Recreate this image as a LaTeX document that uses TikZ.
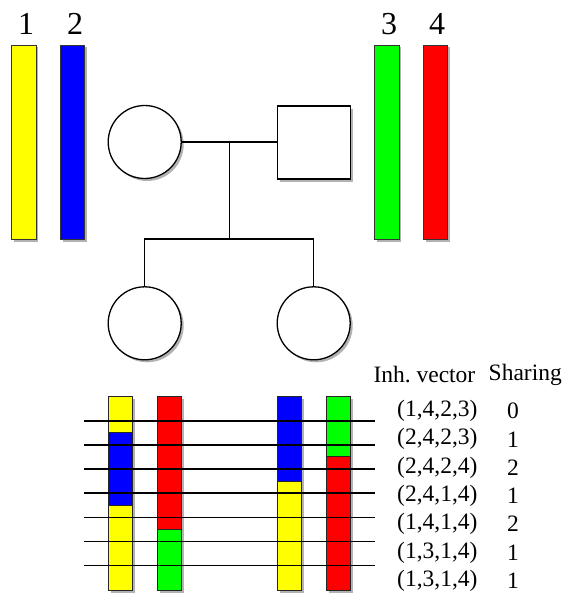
\documentclass[tikz,border=0pt]{standalone}
\usepackage{fontspec}
\setmainfont{Liberation Serif}
\usetikzlibrary{shadows}
\definecolor{cyel}{HTML}{FFFF00}
\definecolor{cblu}{HTML}{0000FF}
\definecolor{cgrn}{HTML}{00FF00}
\definecolor{cred}{HTML}{FF0000}
\begin{document}
\begin{tikzpicture}[x=1pt,y=-1pt,
  shad/.style={drop shadow={shadow xshift=2.5pt,shadow yshift=-2.5pt,opacity=0.3,fill=black}},
  chrom/.style={draw=black!80,line width=0.9pt,minimum width=24.5pt,minimum height=194pt,inner sep=0pt,shad},
  lowchrom/.style={draw=black!85,line width=1pt,minimum width=24.4pt,minimum height=194.7pt,inner sep=0pt,fill=white,shad},
  num/.style={font=\fontsize{32}{36}\selectfont,inner sep=0pt,anchor=base},
  female/.style={circle,draw,line width=1.3pt,minimum size=73pt,inner sep=0pt,fill=white,shad},
  male/.style={rectangle,draw,line width=1.3pt,minimum size=73pt,inner sep=0pt,fill=white,shad},
  link/.style={line width=1.2pt},
  seg/.style={draw=black!85,line width=1pt},
  locus/.style={line width=1.2pt},
  tab/.style={font=\fontsize{23.5}{28}\selectfont,inner sep=0pt}
]
\useasboundingbox (0,0) rectangle (565,594);

% top chromosomes
\node[chrom,fill=cyel] (c1) at (23.7,142) {};
\node[chrom,fill=cblu] (c2) at (72.5,142) {};
\node[chrom,fill=cgrn] (c3) at (386.7,142) {};
\node[chrom,fill=cred] (c4) at (435.5,142) {};
\node[num] (n1) at (26,35) {1};
\node[num] (n2) at (75,35) {2};
\node[num] (n3) at (389,35) {3};
\node[num] (n4) at (437,35) {4};

% pedigree
\coordinate (mar) at (229.3,142);
\coordinate (sib) at (229.3,239);
\draw[link] (mar) -- (sib);
\draw[link] (144.7,286.6) |- (sib) -| (313.7,286.6);
\node[female] (mom) at (144.7,142) {};
\node[male] (dad) at (314.2,142.5) {};
\node[female] (kid1) at (144.7,323.3) {};
\node[female] (kid2) at (313.7,323.3) {};
\draw[line width=2.6pt] (mom.east) -- (mom.east -| dad.west);

% bottom chromosomes
\node[lowchrom] (B1) at (120.5,493.35) {};
\node[lowchrom] (B2) at (169.5,493.35) {};
\node[lowchrom] (B3) at (289.5,493.35) {};
\node[lowchrom] (B4) at (338.5,493.35) {};
\draw[seg,fill=cyel] (108.3,396) rectangle (132.7,432);
\draw[seg,fill=cblu] (108.3,432) rectangle (132.7,505);
\draw[seg,fill=cyel] (108.3,505) rectangle (132.7,590.7);
\draw[seg,fill=cred] (157.3,396) rectangle (181.7,529.3);
\draw[seg,fill=cgrn] (157.3,529.3) rectangle (181.7,590.7);
\draw[seg,fill=cblu] (277.3,396) rectangle (301.7,481.7);
\draw[seg,fill=cyel] (277.3,481.7) rectangle (301.7,590.7);
\draw[seg,fill=cgrn] (326.3,396) rectangle (350.7,456.7);
\draw[seg,fill=cred] (326.3,456.7) rectangle (350.7,590.7);

% loci lines
\foreach \i/\yy in {1/421,2/445,3/469,4/493,5/517.3,6/541.7,7/565.7}{
  \coordinate (L\i) at (84,\yy);
  \coordinate (R\i) at (375,\yy);
  \draw[locus] (L\i) -- (R\i);
}

% table
\node[tab,anchor=west] (hiv) at (373.3,375) {Inh.\ vector};
\node[tab,anchor=east] (hsh) at (562,375) {Sharing};
\foreach \i/\v/\s in {0/{(1,4,2,3)}/0,1/{(2,4,2,3)}/1,2/{(2,4,2,4)}/2,3/{(2,4,1,4)}/1,4/{(1,4,1,4)}/2,5/{(1,3,1,4)}/1,6/{(1,3,1,4)}/1}{
  \node[tab,anchor=west] (v\i) at (397,411+28.3*\i) {\v};
  \node[tab] (s\i) at (513,411+28.3*\i) {\s};
}
\end{tikzpicture}
\end{document}
